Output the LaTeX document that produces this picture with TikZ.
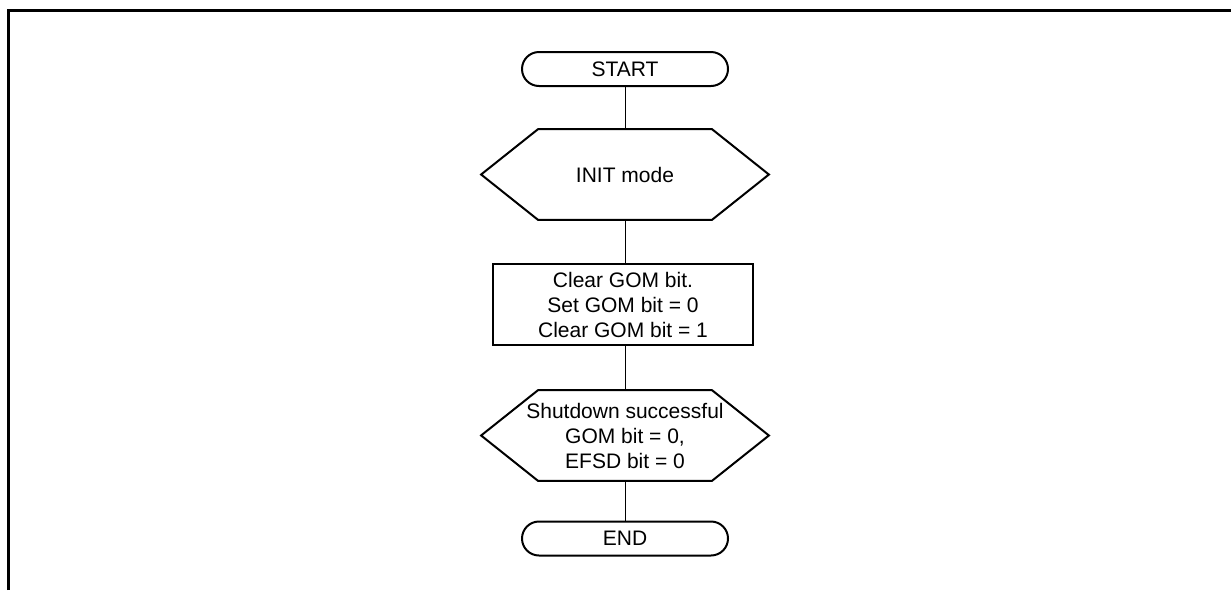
\documentclass[tikz,border=0pt]{standalone}
\usepackage{fontspec}
\setmainfont{Liberation Sans}
\usetikzlibrary{positioning,calc,shapes.misc}
\tikzset{
  flow term/.style={
    rounded rectangle, draw, line width=1pt,
    minimum width=103pt, minimum height=17pt, inner sep=0pt,
    font=\fontsize{10.5}{12.5}\selectfont,
  },
  flow box/.style={
    rectangle, draw, line width=1pt,
    minimum width=130pt, minimum height=40.5pt, inner sep=0pt,
    align=center, font=\fontsize{10.5}{12.5}\selectfont,
  },
  flow hex/.style={
    rectangle, minimum width=143.5pt, minimum height=45pt, inner sep=0pt,
    align=center, font=\fontsize{10.5}{12.5}\selectfont,
  },
  flow outline/.style={line width=1pt, line join=miter},
  flow line/.style={line width=0.5pt},
  frame line/.style={line width=1.75pt, line join=miter},
}
% hexagon drawn round an invisible node
\newcommand{\hexoutline}[1]{%
  \draw[flow outline] (#1.west) -- ($(#1.north west)+(57,0)$)
    -- ($(#1.north east)+(-57,0)$) -- (#1.east)
    -- ($(#1.south east)+(-57,0)$) -- ($(#1.south west)+(57,0)$) -- cycle;}

\begin{document}
\begin{tikzpicture}[x=0.5pt, y=-0.5pt]
\useasboundingbox (0,0) rectangle (1231,590);

\def\xC{625}

% --- FRAME ---
\coordinate (frameBL) at (8.5,590);
\coordinate (frameTL) at (8.5,10.5);
\coordinate (frameTR) at (1231,10.5);
\draw[frame line] (frameBL) -- (frameTL) -- (frameTR);

% --- STEPS ---
\node[flow term] (start) at (\xC, 69) {START};
\node[flow hex]  (init)  at (\xC, 174.5) {INIT mode};
\hexoutline{init}
\node[flow box]  (clear) at (623, 304.5) {Clear GOM bit.\\Set GOM bit = 0\\Clear GOM bit = 1};
\node[flow hex]  (check) at (\xC, 435.5) {Shutdown successful\\GOM bit = 0,\\EFSD bit = 0};
\hexoutline{check}
\node[flow term] (end)   at (\xC, 538.5) {END};

% --- CONNECTORS ---
\draw[flow line] (start.south) -- (start.south |- init.north);
\draw[flow line] (init.south) -- (init.south |- clear.north);
\draw[flow line] (clear.south -| init.south) -- (check.north);
\draw[flow line] (check.south) -- (check.south |- end.north);

\end{tikzpicture}
\end{document}
